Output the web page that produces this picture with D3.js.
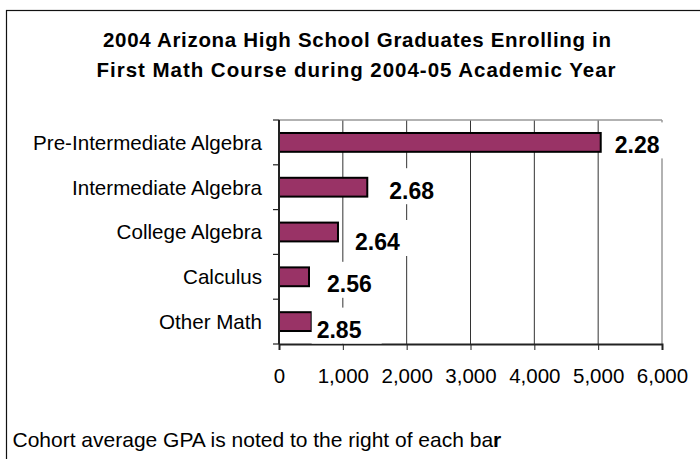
<!DOCTYPE html>
<html>
<head>
<meta charset="utf-8">
<script src="https://cdn.jsdelivr.net/npm/d3@7"></script>
<style>
  body { margin: 0; background: #fff; }
  text { font-family: "Liberation Sans", Arial, sans-serif; fill: #000; }
</style>
</head>
<body>
<div id="chart"></div>
<script>
// data
var categories = ["Pre-Intermediate Algebra", "Intermediate Algebra", "College Algebra", "Calculus", "Other Math"];
var enrolled = [5040, 1383, 924, 470, 512];
var gpa = ["2.28", "2.68", "2.64", "2.56", "2.85"];
var xTicks = [0, 1000, 2000, 3000, 4000, 5000, 6000];

// labels were dragged by hand in the original, so each one has its own nudge [dx, dy]
var nudge = [[14, 2], [22, 3], [17, 10], [18, 7], [5, 8]];

var W = 700, H = 459;
var plot = {left: 279, right: 662, top: 120, bottom: 344};

var svg = d3.select("#chart").append("svg")
  .attr("width", W)
  .attr("height", H);

// chart border (runs off the right and bottom edge like the original)
svg.append("rect")
  .attr("x", 6.5).attr("y", 10.5)
  .attr("width", W + 20).attr("height", H + 20)
  .style("fill", "#fff")
  .style("stroke", "#111")
  .style("stroke-width", 1.2);

// title - the original is spaced out a bit, so stretch it to the same width
var title = svg.append("text")
  .attr("text-anchor", "middle")
  .style("font-weight", "bold")
  .style("font-size", "20.5px");
title.append("tspan").attr("x", 357).attr("y", 46.5)
  .attr("textLength", 508).attr("lengthAdjust", "spacing")
  .text("2004 Arizona High School Graduates Enrolling in");
title.append("tspan").attr("x", 356).attr("y", 76.5)
  .attr("textLength", 519).attr("lengthAdjust", "spacing")
  .text("First Math Course during 2004-05 Academic Year");

var x = d3.scaleLinear()
  .domain([0, 6000])
  .range([plot.left, plot.right]);

var y = d3.scaleBand()
  .domain(categories)
  .range([plot.top, plot.bottom])
  .paddingInner(0.58)
  .paddingOuter(0.29);

// gridlines
svg.selectAll(".grid")
  .data(xTicks.slice(1))
  .enter().append("line")
  .attr("class", "grid")
  .attr("x1", function(d) { return x(d); })
  .attr("x2", function(d) { return x(d); })
  .attr("y1", plot.top)
  .attr("y2", plot.bottom)
  .style("stroke", function(d) { return d == 6000 ? "#999" : "#333"; })
  .style("stroke-width", function(d) { return d == 6000 ? 1.5 : 1; });

// top edge of plot area
svg.append("line")
  .attr("x1", x(0)).attr("x2", x(6000))
  .attr("y1", plot.top).attr("y2", plot.top)
  .style("stroke", "#999")
  .style("stroke-width", 1.5);

// bars
svg.selectAll(".bar")
  .data(categories)
  .enter().append("rect")
  .attr("class", "bar")
  .attr("x", x(0))
  .attr("y", function(d) { return y(d); })
  .attr("width", function(d, i) { return x(enrolled[i]) - x(0); })
  .attr("height", y.bandwidth())
  .style("fill", "#993366")
  .style("stroke", "#000")
  .style("stroke-width", 2);

// x axis
var xAxis = svg.append("g")
  .attr("transform", "translate(0," + plot.bottom + ")")
  .call(d3.axisBottom(x).tickValues(xTicks).tickFormat(d3.format(",")).tickSize(6).tickPadding(18));
xAxis.select(".domain").style("stroke", "#222").style("stroke-width", 2);
xAxis.selectAll(".tick line").style("stroke", "#222");
xAxis.selectAll("text")
  .style("font-family", "'Liberation Sans', Arial, sans-serif")
  .style("font-size", "20.5px");

// y axis: spine, ticks between categories, labels
var step = y.step();
var yBounds = d3.range(categories.length + 1).map(function(i) { return plot.top + i * step; });

svg.append("line")
  .attr("x1", x(0)).attr("x2", x(0))
  .attr("y1", plot.top).attr("y2", plot.bottom)
  .style("stroke", "#222")
  .style("stroke-width", 2);

svg.selectAll(".ytick")
  .data(yBounds)
  .enter().append("line")
  .attr("class", "ytick")
  .attr("x1", x(0) - 6).attr("x2", x(0))
  .attr("y1", function(d) { return d; })
  .attr("y2", function(d) { return d; })
  .style("stroke", "#222")
  .style("stroke-width", 1.2);

svg.selectAll(".cat")
  .data(categories)
  .enter().append("text")
  .attr("class", "cat")
  .attr("text-anchor", "end")
  .attr("x", x(0) - 17)
  .attr("y", function(d) { return y(d) + y.bandwidth() / 2; })
  .attr("dy", "0.36em")
  .style("font-size", "20.6px")
  .text(function(d) { return d; });

// GPA labels with their white boxes
var lab = svg.selectAll(".gpa")
  .data(categories)
  .enter().append("g")
  .attr("class", "gpa");

lab.append("text")
  .attr("x", function(d, i) { return x(enrolled[i]) + nudge[i][0]; })
  .attr("y", function(d) { return y(d) + y.bandwidth() / 2; })
  .attr("dy", function(d, i) { return (nudge[i][1] + 8.3) + "px"; })
  .style("font-size", "23px")
  .style("font-weight", "bold")
  .text(function(d, i) { return gpa[i]; });

lab.each(function(d, i) {
  var g = d3.select(this);
  var b = g.select("text").node().getBBox();
  var cy = y(d) + y.bandwidth() / 2 + nudge[i][1];
  g.insert("rect", "text")
    .attr("x", b.x - 5)
    .attr("y", cy - 22)
    .attr("width", b.width + 25)
    .attr("height", 36)
    .style("fill", "#fff");
});

// footnote
var note = svg.append("text")
  .attr("x", 12.5)
  .attr("y", 446.5)
  .style("font-size", "21px");
note.append("tspan").text("Cohort average GPA is noted to the right of each ba");
note.append("tspan").style("font-weight", "bold").text("r");
</script>
</body>
</html>
